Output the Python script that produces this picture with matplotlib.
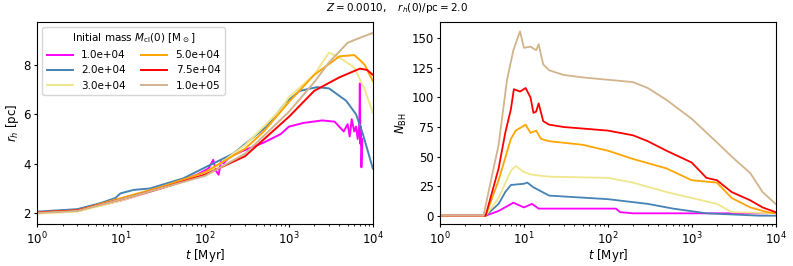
import numpy as np
import matplotlib.pyplot as plt

plt.rcParams['font.size'] = 8.5
plt.rcParams['xtick.major.size'] = 2.5
plt.rcParams['ytick.major.size'] = 2.5
plt.rcParams['xtick.minor.size'] = 1.5
plt.rcParams['xtick.major.pad'] = 2
plt.rcParams['ytick.major.pad'] = 2

# masas iniciales y colores
labels = ['1.0e+04', '2.0e+04', '3.0e+04', '5.0e+04', '7.5e+04', '1.0e+05']
colors = ['magenta', 'steelblue', 'khaki', 'orange', 'red', 'tan']

# r_h(t) [pc]
t_m = [1, 3, 10, 30, 80, 110, 125, 135, 145, 155, 165, 200, 300, 500, 800, 1000, 1500, 2500, 3500, 4500,
       5000, 5300, 5600, 6000, 6300, 6600, 6900, 7000, 7100, 7200, 7300, 7500]
r_m = [2.02, 2.12, 2.5, 3.0, 3.55, 3.8, 4.15, 3.7, 3.55, 4.1, 4.0, 4.3, 4.55, 4.85, 5.2, 5.5, 5.65, 5.75, 5.7, 5.3,
       5.6, 5.1, 5.8, 5.3, 5.5, 5.0, 5.6, 7.25, 4.8, 5.5, 3.85, 5.0]

t_b = [1, 3, 5.6, 8.5, 9.8, 14, 22, 55, 104, 216, 540, 930, 1350, 2150, 3000, 4800, 6300, 7600, 10000]
r_b = [2.05, 2.15, 2.39, 2.6, 2.79, 2.93, 2.99, 3.4, 3.87, 4.4, 5.5, 6.5, 6.95, 7.1, 7.05, 6.55, 6.0, 5.2, 3.8]

t_y = [1, 3, 10, 30, 100, 300, 500, 800, 1000, 2000, 3000, 4000, 6000, 8000, 10000]
r_y = [1.97, 2.05, 2.5, 3.0, 3.55, 4.75, 5.5, 6.2, 6.7, 7.6, 8.5, 8.3, 7.9, 7.0, 6.05]

t_o = [1, 3, 10, 30, 100, 300, 500, 1000, 2000, 4000, 6000, 7000, 8000, 10000]
r_o = [2.02, 2.1, 2.6, 3.05, 3.65, 4.6, 5.3, 6.5, 7.6, 8.35, 8.4, 8.2, 8.0, 7.35]

t_r = [1, 3, 10, 30, 100, 300, 1000, 2000, 4000, 7000, 8500, 10000]
r_r = [2.02, 2.1, 2.55, 3.0, 3.55, 4.3, 5.9, 6.95, 7.5, 7.85, 7.8, 7.6]

t_t = [1, 3, 10, 30, 100, 300, 1000, 2000, 3000, 5000, 7000, 10000]
r_t = [2.0, 2.08, 2.55, 3.0, 3.5, 4.4, 6.1, 7.3, 8.1, 8.9, 9.1, 9.3]

# N_BH(t)
n_t_m = [1, 3.5, 5, 7.5, 10, 12.5, 15, 125, 140, 200, 8000]
n_m = [0, 0, 4, 11, 7, 10, 6, 6, 3, 2, 2]

n_t_b = [1, 3.5, 5, 6, 7, 10, 11, 13, 20, 100, 300, 600, 1200, 1500, 6500, 10000]
n_b = [0, 0, 10, 20, 26, 27, 28, 24, 17, 14, 10, 6, 3, 2, 0, 0]

n_t_y = [1, 3.5, 5, 7, 8, 10, 12, 15, 20, 100, 200, 500, 1000, 2000, 3000, 10000]
n_y = [0, 0, 15, 38, 42, 37, 35, 34, 33, 32, 28, 20, 15, 10, 3, 2]

n_t_o = [1, 3.5, 5, 7, 8, 10.5, 12, 14, 16, 20, 50, 100, 200, 500, 1000, 2000, 3000, 5000, 8000, 10000]
n_o = [0, 0, 30, 65, 72, 77, 70, 72, 65, 63, 60, 55, 48, 40, 30, 28, 15, 7, 3, 2]

n_t_r = [1, 3.5, 5, 6, 7, 7.6, 9, 10.5, 12, 13, 14, 15, 17, 20, 30, 100, 200, 300, 500, 1000, 1500, 2000,
         3000, 5000, 7000, 10000]
n_r = [0, 0, 40, 70, 90, 107, 105, 108, 100, 87, 88, 95, 80, 77, 75, 72, 68, 63, 55, 45, 32, 30,
       20, 13, 7, 3]

n_t_t = [1, 3.3, 5, 6.3, 7.5, 9, 10, 12, 14, 15, 17, 20, 30, 50, 100, 200, 300, 500, 1000, 2000, 3000, 5000,
         7000, 10000]
n_tan = [0, 0, 60, 115, 140, 156, 142, 143, 140, 145, 128, 123, 119, 117, 115, 113, 108, 98, 82, 62, 50, 36,
         20, 10]

rh_t = [t_m, t_b, t_y, t_o, t_r, t_t]
rh_v = [r_m, r_b, r_y, r_o, r_r, r_t]
nb_t = [n_t_m, n_t_b, n_t_y, n_t_o, n_t_r, n_t_t]
nb_v = [n_m, n_b, n_y, n_o, n_r, n_tan]

fig, (ax1, ax2) = plt.subplots(1, 2, figsize=(7.93, 2.66), dpi=100)
fig.subplots_adjust(left=0.047, right=0.978, bottom=0.158, top=0.918, wspace=0.2)

for i in range(6):
    ax1.plot(rh_t[i], rh_v[i], color=colors[i], lw=1.4, label=labels[i])
    ax2.plot(nb_t[i], nb_v[i], color=colors[i], lw=1.3)

ax1.set_xscale('log')
ax1.set_xlim(1, 1e4)
ax1.set_ylim(1.55, 9.75)
ax1.set_yticks([2, 4, 6, 8])
ax1.set_xlabel(r'$t$ [Myr]', labelpad=0)
ax1.set_ylabel(r'$r_h$ [pc]', labelpad=2)
ax1.legend(ncol=2, loc='upper left', title=r'Initial mass $M_{\rm cl}(0)$ [M$_\odot$]',
           fontsize=7.5, title_fontsize=7.5, handlelength=2.5, columnspacing=1.5)

ax2.set_xscale('log')
ax2.set_xlim(1, 1e4)
ax2.set_ylim(-7, 164)
ax2.set_xlabel(r'$t$ [Myr]', labelpad=0)
ax2.set_ylabel(r'$N_{\rm BH}$', labelpad=2)

fig.suptitle(r'$Z = 0.0010, \quad r_h(0)/{\rm pc} = 2.0$', fontsize=7.5, y=0.995)

plt.savefig('out.png')
